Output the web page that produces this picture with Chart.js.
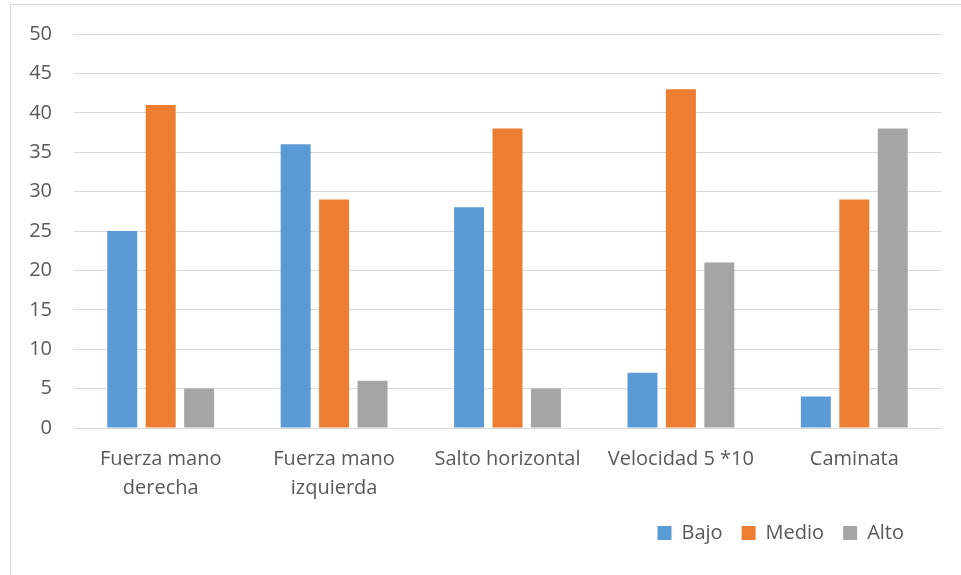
<!DOCTYPE html>
<html>
<head>
<meta charset="utf-8">
<script src="https://cdn.jsdelivr.net/npm/chart.js@4/dist/chart.umd.min.js"></script>
<style>
  html, body { margin: 0; padding: 0; background: #fff; }
  #wrap { position: relative; width: 961px; height: 575px; overflow: hidden; }
  #frame { position: absolute; left: 10px; top: 4px; width: 980px; height: 600px; border: 1px solid #d9d9d9; box-sizing: border-box; }
  canvas { position: absolute; left: 0; top: 0; }
</style>
</head>
<body>
<div id="wrap">
  <div id="frame"></div>
  <canvas id="chart" width="961" height="575"></canvas>
</div>
<script>
// datos
const categorias = [['Fuerza mano', 'derecha'], ['Fuerza mano', 'izquierda'], 'Salto horizontal', 'Velocidad 5 *10', 'Caminata'];
const bajo  = [25, 36, 28, 7, 4];
const medio = [41, 29, 38, 43, 29];
const alto  = [5, 6, 5, 21, 38];
const yTicks = { min: 0, max: 50, step: 5 };

const txt = '#595959';
const grid = '#d9d9d9';
const fontFam = '"Open Sans", "Noto Sans", sans-serif';

function serie(label, data, color) {
  return {
    label: label, data: data, backgroundColor: color,
    categoryPercentage: 0.665, barPercentage: 0.78
  };
}

// corrimiento de la leyenda hacia la izquierda
const moverLeyenda = {
  id: 'moverLeyenda',
  afterLayout: function(chart) {
    if (chart.legend) chart.legend.right -= 18;
  }
};

new Chart(document.getElementById('chart').getContext('2d'), {
  type: 'bar',
  data: {
    labels: categorias,
    datasets: [
      serie('Bajo', bajo, '#5b9bd5'),
      serie('Medio', medio, '#ed7d31'),
      serie('Alto', alto, '#a5a5a5')
    ]
  },
  options: {
    responsive: false, animation: false,
    layout: { padding: { top: 22, right: 20, left: 0, bottom: 22 } },
    scales: {
      x: {
        grid: { display: false },
        border: { color: grid, width: 1 },
        ticks: { color: txt, font: { family: fontFam, size: 20, lineHeight: 1.45 }, padding: 9, maxRotation: 0 },
        afterFit: function(s) { s.height = 76; }
      },
      y: {
        min: yTicks.min, max: yTicks.max,
        grid: { color: grid, lineWidth: 1, drawTicks: false },
        border: { display: false },
        ticks: { stepSize: yTicks.step, color: txt, font: { family: fontFam, size: 20 }, padding: 22 },
        afterFit: function(s) { s.width = 74; }
      }
    },
    plugins: {
      legend: {
        position: 'bottom', align: 'end',
        labels: { color: txt, font: { family: fontFam, size: 20 }, boxWidth: 14, boxHeight: 14, padding: 19 }
      },
      tooltip: { enabled: false }
    }
  },
  plugins: [moverLeyenda]
});
</script>
</body>
</html>
